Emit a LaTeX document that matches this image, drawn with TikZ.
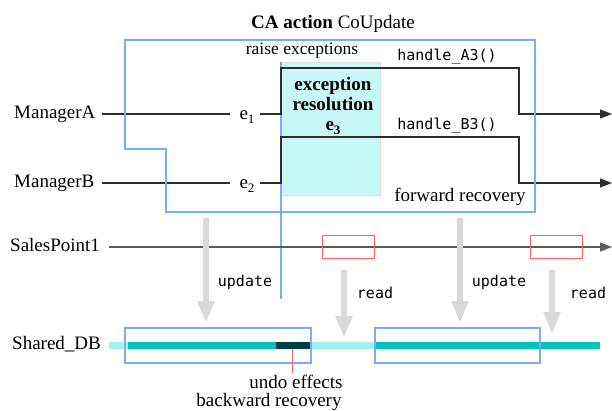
\documentclass[tikz,border=0pt]{standalone}
\usepackage{fontspec}
\setmainfont{Liberation Serif}
\setmonofont{DejaVu Sans Mono}
\usetikzlibrary{arrows.meta}
\definecolor{frameblue}{RGB}{125,170,255}
\definecolor{rescyan}{RGB}{200,248,245}
\definecolor{resedge}{RGB}{215,225,225}
\definecolor{arrgray}{RGB}{217,217,217}
\definecolor{dbl}{RGB}{160,242,236}
\definecolor{dbm}{RGB}{0,196,180}
\definecolor{dbd}{RGB}{0,64,60}
\definecolor{linec}{RGB}{45,45,45}
\definecolor{spline}{RGB}{90,90,90}
\definecolor{redbox}{RGB}{255,100,100}
\newcommand{\subtxt}[1]{{\fontsize{13}{13}\selectfont\raisebox{-4pt}{#1}}}
\begin{document}
\begin{tikzpicture}[x=1pt,y=-1pt,
  lbl/.style={font=\fontsize{19}{21}\selectfont, inner sep=0pt},
  small/.style={font=\fontsize{17.5}{20}\selectfont, inner sep=0pt},
  code/.style={font=\fontsize{15}{17}\selectfont\ttfamily, inner sep=0pt},
  flow/.style={draw=linec, line width=1.1pt},
  flowarrow/.style={flow, -{Triangle[length=12pt,width=9pt]}},
  grayarrow/.style={draw=arrgray, line width=5.5pt, -{Triangle[length=22pt,width=16pt]}},
  bluebox/.style={draw=frameblue, line width=1.3pt},
  redrect/.style={draw=redbox, line width=1pt},
  dbbar/.style={line width=7pt, line cap=butt},
]
\useasboundingbox (0,0) rectangle (612,411);

% ---- exception resolution area
\fill[rescyan, draw=resedge, line width=0.8pt] (281,62) rectangle (380,195);
\coordinate (bt) at (281,62);
\coordinate (bb) at (281,299);
\draw[bluebox] (bt) -- (bb);
\node[small] (raise) at (302,51) {raise exceptions};
\node[lbl, font=\fontsize{19}{20}\selectfont\bfseries, align=center] (res) at (333,106)
  {exception\\resolution\\e\subtxt{3}};

% ---- ManagerA
\node[lbl, anchor=west] (mA) at (14,114) {ManagerA};
\node[lbl] (e1) at (247,117) {e\subtxt{1}};
\coordinate (a0) at (102,114);
\coordinate (a1) at (230,114);
\coordinate (a2) at (260,114);
\coordinate (a3) at (281,114);
\coordinate (a4) at (281,68);
\coordinate (a5) at (519,68);
\coordinate (a6) at (519,114);
\coordinate (a7) at (612,114);
\draw[flow] (a0) -- (a1);
\draw[flowarrow] (a2) -- (a3) -- (a4) -- (a5) -- (a6) -- (a7);
\node[code] (hA) at (447,57) {handle\_A3()};

% ---- ManagerB
\node[lbl, anchor=west] (mB) at (14,183) {ManagerB};
\node[lbl] (e2) at (247,186) {e\subtxt{2}};
\coordinate (b0) at (102,183);
\coordinate (b1) at (230,183);
\coordinate (b2) at (260,183);
\coordinate (b3) at (281,183);
\coordinate (b4) at (281,137);
\coordinate (b5) at (519,137);
\coordinate (b6) at (519,183);
\coordinate (b7) at (612,183);
\draw[flow] (b0) -- (b1);
\draw[flowarrow] (b2) -- (b3) -- (b4) -- (b5) -- (b6) -- (b7);
\node[code] (hB) at (447,126) {handle\_B3()};
\node[lbl] (fwd) at (460,197) {forward recovery};

% ---- CA action frame (drawn over the flow lines)
\node[lbl] (title) at (333,24) {\textbf{CA action} CoUpdate};
\draw[bluebox] (125,40) -- (535,40) -- (535,212) -- (166,212) -- (166,149) -- (125,149) -- cycle;

% ---- SalesPoint1
\node[lbl, anchor=west] (sp) at (10,245) {SalesPoint1};
\coordinate (s0) at (109,247);
\coordinate (s1) at (612,247);
\draw[draw=spline, line width=1.2pt, -{Triangle[length=12pt,width=9pt]}] (s0) -- (s1);
\draw[redrect] (322,236) rectangle (374,259);
\draw[redrect] (530,236) rectangle (582,259);

% ---- gray update / read arrows
\coordinate (u1s) at (206,218); \coordinate (u1e) at (206,323);
\coordinate (u2s) at (460,218); \coordinate (u2e) at (460,323);
\coordinate (r1s) at (344,270); \coordinate (r1e) at (344,338);
\coordinate (r2s) at (552,270); \coordinate (r2e) at (552,334);
\draw[grayarrow] (u1s) -- (u1e);
\draw[grayarrow] (u2s) -- (u2e);
\draw[grayarrow] (r1s) -- (r1e);
\draw[grayarrow] (r2s) -- (r2e);
\node[code] (up1) at (245,282) {update};
\node[code] (up2) at (499,282) {update};
\node[code] (rd1) at (375,293) {read};
\node[code] (rd2) at (588,293) {read};

% ---- Shared_DB
\node[lbl, anchor=west] (db) at (12,344) {Shared\_DB};
\draw[dbbar, dbl] (109,345.5) -- (600,345.5);
\draw[dbbar, dbm] (128,345.5) -- (276,345.5);
\draw[dbbar, dbd] (276,345.5) -- (311,345.5);
\draw[dbbar, dbm] (376,345.5) -- (600,345.5);
\draw[bluebox] (125,328) rectangle (311,363);
\draw[bluebox] (375,328) rectangle (540,363);
\coordinate (rl0) at (292,349);
\coordinate (rl1) at (292,373);
\draw[draw=redbox, line width=1pt] (rl0) -- (rl1);
\node[lbl, anchor=base] (undo) at (296,388) {undo effects};
\node[lbl, anchor=base] (bwd) at (269,406) {backward recovery};
\end{tikzpicture}
\end{document}
